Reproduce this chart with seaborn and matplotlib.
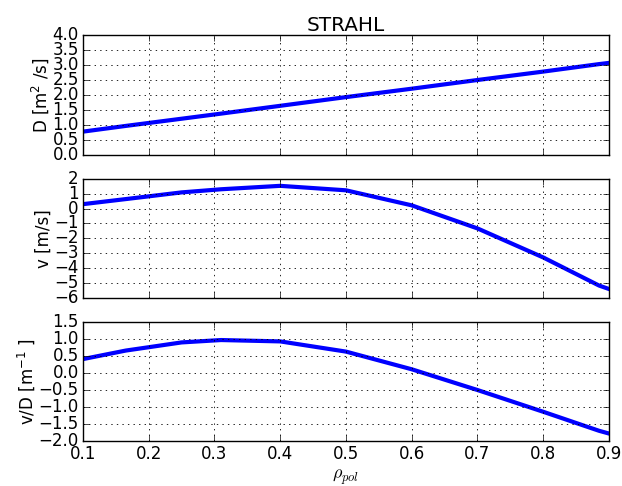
import matplotlib
matplotlib.use("Agg")
import matplotlib.pyplot as plt
import seaborn as sns
import numpy as np

rho = [0.1, 0.165, 0.25, 0.31, 0.4, 0.5, 0.6, 0.7, 0.8, 0.885, 0.9]
D_vals = [0.78, 0.97, 1.21, 1.38, 1.64, 1.93, 2.21, 2.50, 2.78, 3.03, 3.07]
v_vals = [0.30, 0.64, 1.09, 1.30, 1.53, 1.23, 0.22, -1.33, -3.28, -5.17, -5.40]
vD_vals = [0.41, 0.66, 0.90, 0.97, 0.93, 0.63, 0.11, -0.50, -1.14, -1.70, -1.78]

x_ticks = [0.1, 0.2, 0.3, 0.4, 0.5, 0.6, 0.7, 0.8, 0.9]
D_ticks = [0.0, 0.5, 1.0, 1.5, 2.0, 2.5, 3.0, 3.5, 4.0]
v_ticks = [-6, -5, -4, -3, -2, -1, 0, 1, 2]
vD_ticks = [-2.0, -1.5, -1.0, -0.5, 0.0, 0.5, 1.0, 1.5]

plt.style.use("classic")
plt.rcParams["font.family"] = ["DejaVu Sans"]
plt.rcParams["mathtext.fontset"] = "dejavusans"
plt.rcParams["font.size"] = 12

fig = plt.figure(figsize=(6.22, 4.86), dpi=100, facecolor="white")
L, R = 0.1334, 0.979
ax1 = fig.add_axes([L, 0.681, R - L, 0.928 - 0.681])
ax2 = fig.add_axes([L, 0.387, R - L, 0.632 - 0.387], sharex=ax1)
ax3 = fig.add_axes([L, 0.0926, R - L, 0.3374 - 0.0926], sharex=ax1)

series = [(ax1, D_vals, D_ticks, r"D [m$^2$ /s]"),
          (ax2, v_vals, v_ticks, "v [m/s]"),
          (ax3, vD_vals, vD_ticks, r"v/D [m$^{-1}$ ]")]

for ax, vals, yt, lab in series:
    ax.set_facecolor("white")
    sns.lineplot(x=rho, y=vals, ax=ax, color="blue", lw=3, legend=False)
    ax.set_xlim(0.1, 0.9)
    ax.set_ylim(yt[0], yt[-1])
    ax.set_yticks(yt)
    ax.set_xticks(x_ticks)
    ax.grid(True, linestyle=":", color="black", linewidth=0.6)
    ax.tick_params(direction="in", top=True, right=True, labelsize=12, pad=3)
    ax.set_ylabel(lab, fontsize=12, labelpad=1)

ax1.set_yticklabels([f"{t:.1f}" for t in D_ticks])
ax3.set_yticklabels([f"{t:.1f}".replace("-", "\u2212") for t in vD_ticks])
plt.setp(ax1.get_xticklabels(), visible=False)
plt.setp(ax2.get_xticklabels(), visible=False)
ax3.set_xticklabels([f"{t:.1f}" for t in x_ticks])
ax1.set_title("STRAHL", fontsize=14.4, pad=3)
ax3.set_xlabel(r"$\rho_{pol}$", math_fontfamily="cm", fontsize=13, labelpad=3)

fig.savefig("out.png", dpi=100, facecolor="white")
